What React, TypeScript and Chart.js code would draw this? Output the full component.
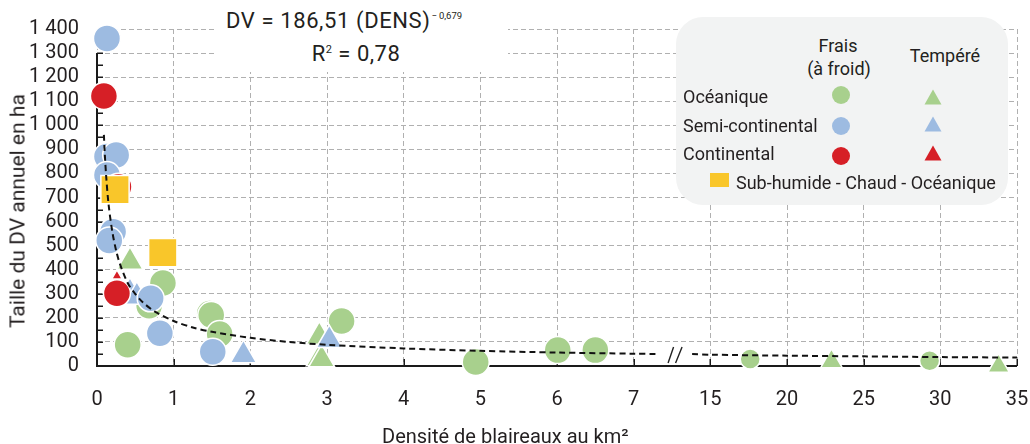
import React, { useEffect, useRef } from "react";
import { Chart, registerables } from "chart.js";

Chart.register(...registerables);

// ---- axis ticks ----
const xTickLabels = ["0", "1", "2", "3", "4", "5", "6", "7", "15", "20", "25", "30", "35"];
const yMin = 0;
const yMax = 1400;
const yStep = 100;

// ---- data (density in badgers/km², home range in ha) ----
// Océanique – Frais (green circles)
const oceaniqueFraisX = [0.4, 0.86, 0.68, 1.47, 1.49, 1.6, 3.19, 4.94, 6.01, 6.5, 17.6, 29.3];
const oceaniqueFraisY = [88, 345, 250, 218, 212, 133, 187, 17, 66, 66, 29, 22];
// Océanique – Tempéré (green triangles)
const oceaniqueTempereX = [0.43, 2.9, 2.9, 2.93, 22.9, 33.8];
const oceaniqueTempereY = [433, 122, 32, 28, 19, 0];
// Semi-continental – Frais (blue circles)
const semiContFraisX = [0.13, 0.13, 0.25, 0.13, 0.21, 0.16, 0.7, 0.82, 1.51];
const semiContFraisY = [1361, 870, 877, 793, 558, 521, 281, 136, 59];
// Semi-continental – Tempéré (blue triangles)
const semiContTempereX = [0.43, 0.52, 1.91, 3.03];
const semiContTempereY = [305, 288, 45, 108];
// Continental – Frais (red circles)
const continentalFraisX = [0.09, 0.28, 0.26];
const continentalFraisY = [1122, 745, 302];
// Continental – Tempéré (red triangle)
const continentalTempereX = [0.26];
const continentalTempereY = [374];
// Sub-humide – Chaud – Océanique (yellow squares)
const subHumideX = [0.235, 0.858];
const subHumideY = [733, 471];

// Power trend DV = 186,51 (DENS)^-0,679 as drawn (two pieces around the axis break)
const trend1X = [0.09, 0.1, 0.12, 0.15, 0.2, 0.25, 0.3, 0.4, 0.5, 0.6, 0.75, 1, 1.25, 1.5, 2, 2.5, 3, 4, 5, 6, 7, 9.4];
const trend1Y = [960, 890, 787, 674, 557, 479, 423, 345, 299, 264, 227, 187, 160, 142, 117, 100, 88, 73, 63, 56, 51, 50];
const trend2X = [13.1, 15, 20, 25, 30, 35];
const trend2Y = [50, 47, 43, 40, 37, 35];

// broken axis: 0..7 linear, 7..15 compressed into one slot, 15..35 by steps of 5
const toAxis = (v: number) => (v <= 7 ? v : v < 15 ? 7 + (v - 7) / 8 : 8 + (v - 15) / 5);
const pts = (xs: number[], ys: number[]) => xs.map((x, i) => ({ x: toAxis(x), y: ys[i] }));

const GREEN = "#a8d08d";
const BLUE = "#9dbbe1";
const RED = "#d61f26";
const YELLOW = "#f9c62a";
const TXT = "#231f20";
const FONT = "Roboto";

const fmtY = (v: number) =>
  v >= 1000 ? `${Math.floor(v / 1000)} ${String(v % 1000).padStart(3, "0")}` : String(v);

const decoPlugin = {
  id: "deco",
  beforeDatasetsDraw(chart: any) {
    const { ctx, scales } = chart;
    const x = scales.x;
    const y = scales.y;
    const x0 = x.getPixelForValue(0);
    const y0 = y.getPixelForValue(0);
    ctx.save();
    ctx.strokeStyle = "#1a1a1a";
    ctx.lineWidth = 2;
    ctx.beginPath();
    ctx.moveTo(x0, y.getPixelForValue(1300));
    ctx.lineTo(x0, y0 + 1);
    ctx.moveTo(x0 - 1, y0);
    ctx.lineTo(x.getPixelForValue(12), y0);
    ctx.stroke();
    ctx.lineWidth = 1.5;
    ctx.beginPath();
    for (let v = 0; v <= 1300; v += 50) {
      const py = Math.round(y.getPixelForValue(v)) + 0.25;
      ctx.moveTo(x0, py);
      ctx.lineTo(x0 + 6, py);
    }
    for (let i = 1; i <= 12; i++) {
      const px = Math.round(x.getPixelForValue(i)) + 0.25;
      ctx.moveTo(px, y0);
      ctx.lineTo(px, y0 - 7);
    }
    ctx.stroke();
    // break mark "//"
    const c = x.getPixelForValue(7.54);
    const yc = y.getPixelForValue(46);
    ctx.lineWidth = 1.4;
    ctx.strokeStyle = "#222";
    ctx.beginPath();
    ctx.moveTo(c - 7, yc + 8);
    ctx.lineTo(c - 1.5, yc - 8);
    ctx.moveTo(c + 0.5, yc + 8);
    ctx.lineTo(c + 7, yc - 8);
    ctx.stroke();
    ctx.restore();
  },
};

function Tri({ color, cx, cy }: { color: string; cx: number; cy: number }) {
  return (
    <svg
      width={18}
      height={16}
      style={{ position: "absolute", left: cx - 9, top: cy - 8 }}
    >
      <polygon points="9,0.5 17.5,15.5 0.5,15.5" fill={color} />
    </svg>
  );
}

function Dot({ color, cx, cy }: { color: string; cx: number; cy: number }) {
  return (
    <div
      style={{
        position: "absolute",
        left: cx - 9,
        top: cy - 9,
        width: 18,
        height: 18,
        borderRadius: "50%",
        background: color,
      }}
    />
  );
}

const txt = (extra: React.CSSProperties): React.CSSProperties => ({
  position: "absolute",
  whiteSpace: "nowrap",
  lineHeight: 1,
  color: TXT,
  fontFamily: FONT,
  ...extra,
});

export default function App() {
  const ref = useRef<HTMLCanvasElement | null>(null);

  useEffect(() => {
    if (!ref.current) return;
    const marker = (color: string, style: string, radius: any) => ({
      backgroundColor: color,
      borderColor: "#ffffff",
      borderWidth: 1.5,
      pointStyle: style,
      pointRadius: radius,
      pointHoverRadius: radius,
      showLine: false,
      clip: false as any,
    });
    const trendStyle = {
      showLine: true,
      borderColor: "#111111",
      borderWidth: 2,
      borderDash: [6, 4],
      pointRadius: 0,
      fill: false,
      tension: 0.3,
      clip: false as any,
    };
    const chart = new Chart(ref.current, {
      type: "scatter",
      data: {
        datasets: [
          { label: "trend1", data: pts(trend1X, trend1Y), ...trendStyle },
          { label: "trend2", data: pts(trend2X, trend2Y), ...trendStyle },
          { label: "Sub-humide - Chaud - Océanique", data: pts(subHumideX, subHumideY), ...marker(YELLOW, "rect", 20) },
          { label: "Continental frais", data: pts(continentalFraisX, continentalFraisY), ...marker(RED, "circle", 13.5) },
          { label: "Continental tempéré", data: pts(continentalTempereX, continentalTempereY), ...marker(RED, "triangle", 6) },
          { label: "Semi-continental frais", data: pts(semiContFraisX, semiContFraisY), ...marker(BLUE, "circle", 13.5) },
          { label: "Semi-continental tempéré", data: pts(semiContTempereX, semiContTempereY), ...marker(BLUE, "triangle", 15) },
          {
            label: "Océanique frais",
            data: pts(oceaniqueFraisX, oceaniqueFraisY),
            ...marker(GREEN, "circle", (c: any) => (c.raw && c.raw.x > 8 ? 10 : 13.5)),
          },
          {
            label: "Océanique tempéré",
            data: pts(oceaniqueTempereX, oceaniqueTempereY),
            ...marker(GREEN, "triangle", (c: any) => (c.raw && c.raw.x > 8 ? 12.5 : 15)),
          },
        ] as any,
      },
      options: {
        animation: false,
        responsive: false,
        events: [],
        layout: { autoPadding: false, padding: { top: 29, right: 13, left: 0, bottom: 0 } },
        plugins: { legend: { display: false }, tooltip: { enabled: false } },
        scales: {
          x: {
            type: "linear",
            min: 0,
            max: 12,
            afterFit: (s: any) => {
              s.height = 78;
              s.paddingLeft = 0;
              s.paddingRight = 0;
            },
            ticks: {
              stepSize: 1,
              autoSkip: false,
              maxRotation: 0,
              padding: 22,
              color: TXT,
              font: { family: FONT, size: 20 },
              callback: (v: any) => xTickLabels[Number(v)] ?? "",
            },
            grid: { color: "#b0b0b0", lineWidth: 1, drawTicks: false },
            border: { display: false, dash: [5, 3] },
          },
          y: {
            min: yMin,
            max: yMax,
            afterFit: (s: any) => {
              s.width = 97;
              s.paddingTop = 0;
              s.paddingBottom = 0;
            },
            ticks: {
              stepSize: yStep,
              autoSkip: false,
              padding: 18,
              color: TXT,
              font: { family: FONT, size: 20 },
              callback: (v: any) => fmtY(Number(v)),
            },
            grid: { color: "#b0b0b0", lineWidth: 1, drawTicks: false },
            border: { display: false, dash: [5, 3] },
          },
        },
      } as any,
      plugins: [decoPlugin],
    });
    return () => chart.destroy();
  }, []);

  return (
    <div
      style={{
        position: "absolute",
        left: 0,
        top: 0,
        width: 1030,
        height: 444,
        background: "#ffffff",
        overflow: "hidden",
        fontFamily: FONT,
      }}
    >
      <canvas ref={ref} width={1030} height={444} style={{ position: "absolute", left: 0, top: 0, width: 1030, height: 444 }} />

      {/* equation box */}
      <div style={{ position: "absolute", left: 217, top: 0, width: 291, height: 72, background: "#ffffff" }} />
      <div style={txt({ left: 226, top: 21, transform: "translateY(-50%)", fontSize: 22, letterSpacing: 0.6 })}>
        DV = 186,51 (DENS)
        <span style={{ fontSize: 9.5, letterSpacing: 0, position: "relative", top: -9, marginLeft: 1 }}>−{"\u2009"}0,679</span>
      </div>
      <div style={txt({ left: 356, top: 53.5, transform: "translate(-50%,-50%)", fontSize: 22, letterSpacing: 0.5 })}>
        R<span style={{ fontSize: 11, position: "relative", top: -8 }}>2</span> = 0,78
      </div>

      {/* legend */}
      <div
        style={{
          position: "absolute",
          left: 676,
          top: 17,
          width: 332,
          height: 188,
          borderRadius: 27,
          background: "#f2f3f3",
        }}
      />
      <div style={txt({ left: 838, top: 46, transform: "translate(-50%,-50%)", fontSize: 18 })}>Frais</div>
      <div style={txt({ left: 839, top: 69, transform: "translate(-50%,-50%)", fontSize: 18 })}>(à froid)</div>
      <div style={txt({ left: 945, top: 56, transform: "translate(-50%,-50%)", fontSize: 18 })}>Tempéré</div>
      <div style={txt({ left: 683, top: 97, transform: "translateY(-50%)", fontSize: 18 })}>Océanique</div>
      <div style={txt({ left: 683, top: 125.5, transform: "translateY(-50%)", fontSize: 18 })}>Semi-continental</div>
      <div style={txt({ left: 683, top: 154, transform: "translateY(-50%)", fontSize: 18 })}>Continental</div>
      <Dot color={GREEN} cx={841} cy={95} />
      <Dot color={BLUE} cx={841} cy={126} />
      <Dot color={RED} cx={841} cy={155.5} />
      <Tri color={GREEN} cx={933} cy={97} />
      <Tri color={BLUE} cx={933} cy={124} />
      <Tri color={RED} cx={933} cy={153} />
      <div style={{ position: "absolute", left: 710, top: 173, width: 19, height: 14, background: YELLOW }} />
      <div style={txt({ left: 736, top: 183, transform: "translateY(-50%)", fontSize: 18 })}>
        Sub-humide - Chaud - Océanique
      </div>

      {/* axis titles */}
      <div style={txt({ left: 18, top: 211, transform: "translate(-50%,-50%) rotate(-90deg)", fontSize: 21 })}>
        Taille du DV annuel en ha
      </div>
      <div style={txt({ left: 382, top: 436, transform: "translateY(-50%)", fontSize: 20 })}>
        Densité de blaireaux au km²
      </div>
    </div>
  );
}
